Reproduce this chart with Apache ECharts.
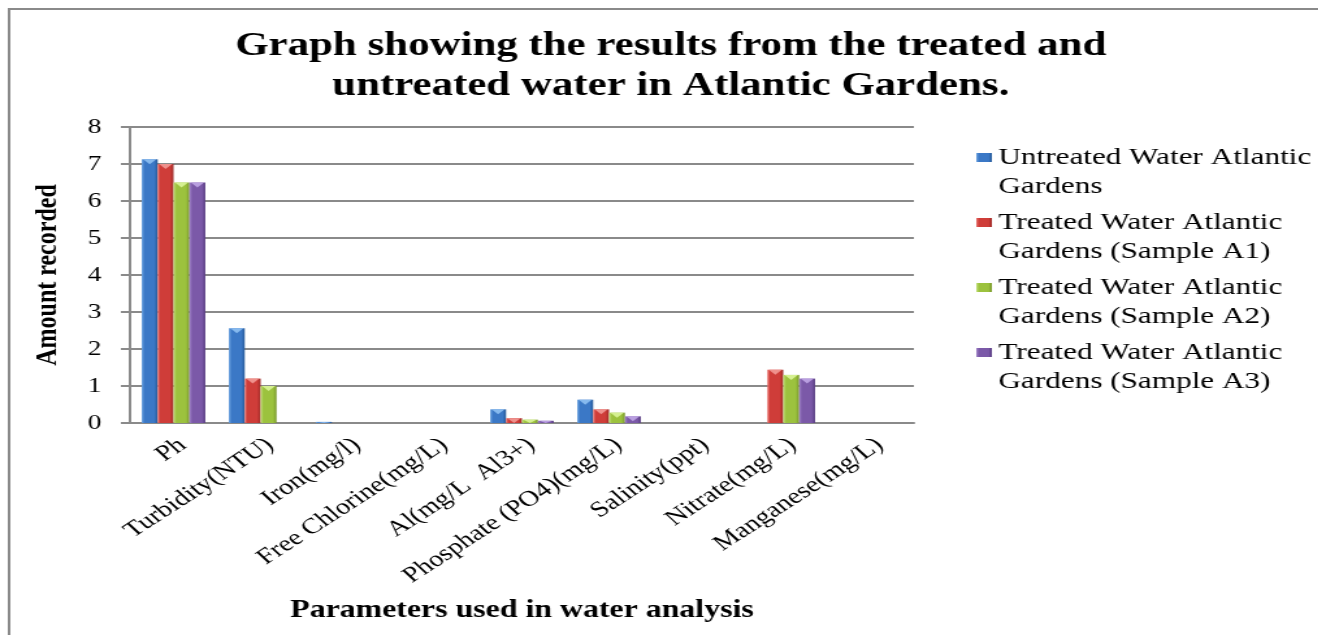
<!DOCTYPE html>
<html>
<head>
<meta charset="utf-8">
<title>Atlantic Gardens water analysis</title>
<script src="https://cdn.jsdelivr.net/npm/echarts@6/dist/echarts.min.js"></script>
<style>
  html, body { margin: 0; padding: 0; background: #ffffff; width: 1318px; height: 635px; overflow: hidden; }
  /* chart is laid out narrower and widened horizontally to get the broad lettering */
  #chart { width: 1014px; height: 635px; transform: scaleX(1.3); transform-origin: 0 0; }
</style>
</head>
<body>
<div id="chart"></div>
<script>
// Parameters measured
const categories = [
  'Ph', 'Turbidity(NTU)', 'Iron(mg/l)', 'Free Chlorine(mg/L)', 'Al(mg/L  Al3+)',
  'Phosphate (PO4)(mg/L)', 'Salinity(ppt)', 'Nitrate(mg/L)', 'Manganese(mg/L)'
];

// Series names
const seriesNames = [
  'Untreated Water Atlantic Gardens',
  'Treated Water Atlantic Gardens (Sample A1)',
  'Treated Water Atlantic Gardens (Sample A2)',
  'Treated Water Atlantic Gardens (Sample A3)'
];

// Recorded amounts per parameter
const untreated = [7.13, 2.56, 0.03, 0, 0.37, 0.63, 0, 0, 0];
const sampleA1  = [7.0, 1.2, 0, 0, 0.13, 0.37, 0, 1.44, 0];
const sampleA2  = [6.5, 1.0, 0, 0, 0.09, 0.28, 0, 1.3, 0];
const sampleA3  = [6.5, 0, 0, 0, 0.06, 0.18, 0, 1.2, 0];

// Value axis ticks
const yMin = 0;
const yMax = 8;
const yStep = 1;

const serif = "'Liberation Serif', 'Times New Roman', serif";
const CATEGORY_GAP = 0.27;

// Bevelled bar fill: light left edge, solid body, dark right edge
function bevel(light, mid, dark) {
  return new echarts.graphic.LinearGradient(0, 0, 1, 0, [
    { offset: 0, color: light },
    { offset: 0.18, color: mid },
    { offset: 0.78, color: mid },
    { offset: 1, color: dark }
  ]);
}

const fills = [
  bevel('#6aa2e0', '#3b78c6', '#275a98'),
  bevel('#e8706b', '#cf3d39', '#9c2826'),
  bevel('#c2e07a', '#9cc23e', '#77962a'),
  bevel('#a184c8', '#7b59a8', '#573c80')
];
// light facet on the top of each bar
const capColors = ['#8fc0f2', '#f29a96', '#dcf59a', '#c0a6e6'];

const values = [untreated, sampleA1, sampleA2, sampleA3];

// flattened [category, value, seriesIndex] rows for the top facets
const capRows = [];
values.forEach(function (arr, s) {
  arr.forEach(function (v, c) { if (v > 0) capRows.push([c, v, s]); });
});

const chart = echarts.init(document.getElementById('chart'), null, { renderer: 'canvas' });

chart.setOption({
  backgroundColor: '#ffffff',
  animation: false,
  title: {
    text: 'Graph showing the results from the treated and\nuntreated water in Atlantic Gardens.',
    left: 516,
    top: 26,
    padding: 0,
    textAlign: 'center',
    textStyle: {
      fontFamily: serif,
      fontWeight: 'bold',
      fontSize: 33,
      lineHeight: 40,
      color: '#000000'
    }
  },
  legend: {
    orient: 'vertical',
    left: 746,
    top: 109,
    icon: 'rect',
    itemWidth: 12,
    itemHeight: 9,
    itemGap: -22,
    selectedMode: false,
    // a blank first line keeps the swatch level with the first text line
    formatter: function (name) { return '\n' + name.replace(' Gardens', '\nGardens'); },
    textStyle: {
      fontFamily: serif,
      fontSize: 24,
      lineHeight: 29,
      color: '#000000'
    },
    data: seriesNames
  },
  grid: {
    left: 100,
    right: 311,
    top: 127,
    bottom: 212,
    outerBoundsMode: 'none'
  },
  xAxis: {
    type: 'category',
    data: categories,
    name: 'Parameters used in water analysis',
    nameLocation: 'middle',
    nameGap: 175,
    nameTextStyle: {
      fontFamily: serif,
      fontWeight: 'bold',
      fontSize: 24.5,
      color: '#000000'
    },
    axisLine: { show: true, lineStyle: { color: '#8a8a8a', width: 2 } },
    axisTick: { show: false },
    axisLabel: {
      interval: 0,
      rotate: 40,
      margin: 11,
      verticalAlign: 'top',
      fontFamily: serif,
      fontSize: 22,
      color: '#000000'
    }
  },
  yAxis: {
    type: 'value',
    min: yMin,
    max: yMax,
    interval: yStep,
    name: 'Amount recorded',
    nameLocation: 'middle',
    nameRotate: 90,
    nameGap: 51,
    nameTextStyle: {
      fontFamily: serif,
      fontWeight: 'bold',
      fontSize: 24,
      color: '#000000'
    },
    axisLine: { show: true, lineStyle: { color: '#8a8a8a', width: 2 } },
    axisTick: { show: true, length: 7, lineStyle: { color: '#8a8a8a', width: 2 } },
    axisLabel: {
      margin: 22,
      fontFamily: serif,
      fontSize: 21,
      color: '#000000'
    },
    splitLine: { show: true, lineStyle: { color: '#8a8a8a', width: 2 } }
  },
  graphic: [{
    type: 'rect',
    silent: true,
    z: -10,
    shape: { x: 7, y: 9, width: 1300, height: 900 },
    style: { fill: 'none', stroke: '#8a8a8a', lineWidth: 2 }
  }],
  series: seriesNames.map(function (name, i) {
    return {
      name: name,
      type: 'bar',
      data: values[i],
      barGap: '0%',
      barCategoryGap: (CATEGORY_GAP * 100) + '%',
      itemStyle: { color: fills[i] }
    };
  }).concat([{
    type: 'custom',
    silent: true,
    z: 5,
    data: capRows,
    encode: { x: 0, y: 1 },
    renderItem: function (params, api) {
      const cat = api.value(0);
      const val = api.value(1);
      const s = api.value(2);
      const band = api.size([1, 0])[0];
      const group = band * (1 - CATEGORY_GAP);
      const w = group / values.length;
      const top = api.coord([cat, val]);
      const base = api.coord([cat, 0]);
      const x0 = top[0] - group / 2 + s * w;
      const depth = Math.min(5, base[1] - top[1]);
      return {
        type: 'polygon',
        shape: { points: [[x0 + 1, top[1]], [x0 + w - 1, top[1]], [x0 + w / 2, top[1] + depth]] },
        style: { fill: capColors[s], opacity: 0.9 }
      };
    }
  }])
});
</script>
</body>
</html>
